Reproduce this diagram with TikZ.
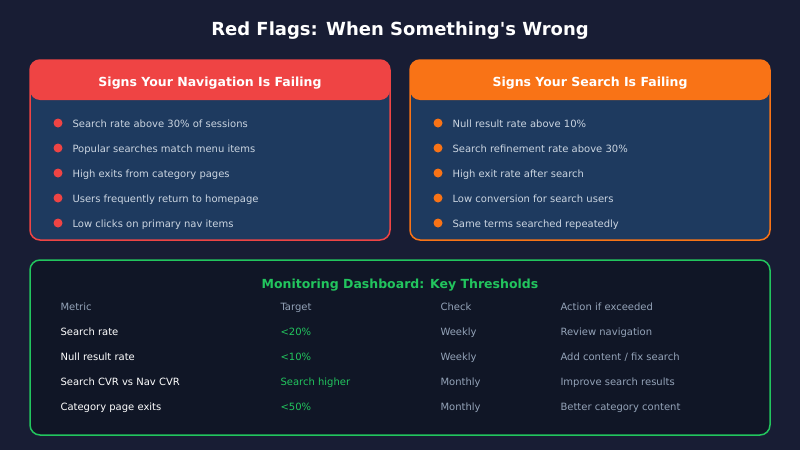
\documentclass[tikz,border=0pt]{standalone}
\usepackage{fontspec}
\setmainfont{DejaVu Sans}
\definecolor{bgnavy}{RGB}{24, 29, 52}
\definecolor{cardblue}{RGB}{30, 58, 95}
\definecolor{flagred}{RGB}{239, 68, 68}
\definecolor{flagorange}{RGB}{249, 115, 22}
\definecolor{monigreen}{RGB}{34, 197, 94}
\definecolor{paneldark}{RGB}{16, 22, 38}
\definecolor{softgray}{RGB}{203, 213, 225}
\definecolor{mutedgray}{RGB}{148, 163, 184}
\tikzset{
  bullettext/.style={anchor=base west, text=softgray, font=\fontsize{10}{12}\selectfont},
  headtext/.style={anchor=base, text=white, font=\bfseries\fontsize{12.5}{15}\selectfont},
  colhead/.style={anchor=base west, text=mutedgray, font=\fontsize{10}{12}\selectfont},
  cellwhite/.style={anchor=base west, text=white, font=\fontsize{10}{12}\selectfont},
  cellgreen/.style={anchor=base west, text=monigreen, font=\fontsize{10}{12}\selectfont},
  cellgray/.style={anchor=base west, text=mutedgray, font=\fontsize{10}{12}\selectfont}
}
\begin{document}
\begin{tikzpicture}[x=1pt, y=-1pt]
            % Background
            \fill[bgnavy] (0,0) rectangle (800,450);
            \useasboundingbox (0,0) rectangle (800,450);
            \node[anchor=base, text=white, font=\bfseries\fontsize{18}{22}\selectfont] (title) at (400,35) {Red Flags: When Something\textquotesingle s Wrong};
            % Navigation card
            \draw[flagred, fill=cardblue, line width=1.5pt, rounded corners=10pt] (30,60) rectangle (390,240);
            \fill[flagred, rounded corners=10pt] (30,60) rectangle (390,100);
            \node[headtext] (navhead) at (210,86) {Signs Your Navigation Is Failing};
            \foreach \txt [count=\i] in {Search rate above 30\% of sessions, Popular searches match menu items, High exits from category pages, Users frequently return to homepage, Low clicks on primary nav items}{
              \fill[flagred] (58,98+25*\i) circle (4.5);
              \node[bullettext] (nav\i) at (69,102+25*\i) {\txt};
            }
            % Search card
            \draw[flagorange, fill=cardblue, line width=1.5pt, rounded corners=10pt] (410,60) rectangle (770,240);
            \fill[flagorange, rounded corners=10pt] (410,60) rectangle (770,100);
            \node[headtext] (srchead) at (590,86) {Signs Your Search Is Failing};
            \foreach \txt [count=\i] in {Null result rate above 10\%, Search refinement rate above 30\%, High exit rate after search, Low conversion for search users, Same terms searched repeatedly}{
              \fill[flagorange] (438,98+25*\i) circle (4.5);
              \node[bullettext] (src\i) at (449,102+25*\i) {\txt};
            }
            % Monitoring panel
            \draw[monigreen, fill=paneldark, line width=1.5pt, rounded corners=10pt] (30,260) rectangle (770,435);
            \node[anchor=base, text=monigreen, font=\bfseries\fontsize{12.5}{15}\selectfont] (monhead) at (400,288) {Monitoring Dashboard: Key Thresholds};
            \node[colhead] (hmetric) at (57,310) {Metric};
            \node[colhead] (htarget) at (277,310) {Target};
            \node[colhead] (hcheck) at (437,310) {Check};
            \node[colhead] (haction) at (557,310) {Action if exceeded};
            \foreach \m/\t/\c/\a [count=\i] in {Search rate/{<}20\%/Weekly/Review navigation, Null result rate/{<}10\%/Weekly/Add content \slash{} fix search, Search CVR vs Nav CVR/Search higher/Monthly/Improve search results, Category page exits/{<}50\%/Monthly/Better category content}{
              \node[cellwhite] (metric\i) at (57,310+25*\i) {\m};
              \node[cellgreen] (target\i) at (277,310+25*\i) {\t};
              \node[cellgray] (check\i) at (437,310+25*\i) {\c};
              \node[cellgray] (action\i) at (557,310+25*\i) {\a};
            }
\end{tikzpicture}
\end{document}
